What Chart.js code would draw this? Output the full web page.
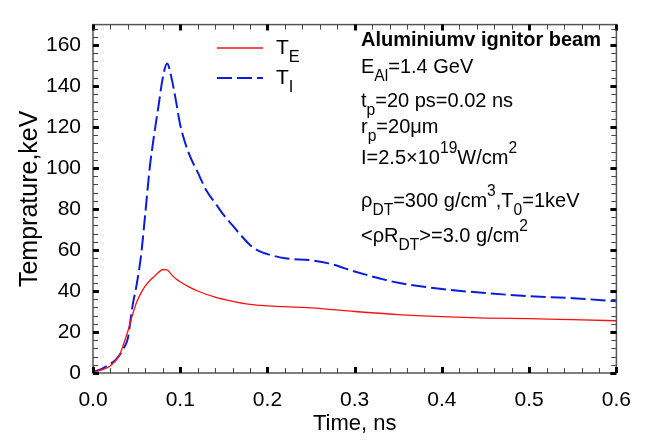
<!DOCTYPE html>
<html>
<head>
<meta charset="utf-8">
<script src="https://cdn.jsdelivr.net/npm/chart.js@4"></script>
<style>
  body { margin: 0; background: #fff; }
  #wrap { width: 646px; height: 442px; }
</style>
</head>
<body>
<div id="wrap"><canvas id="chart" width="646" height="442"></canvas></div>
<script>
// electron temperature T_E (red, solid)
const timeE = [0, 0.01, 0.02, 0.03, 0.035, 0.04, 0.045, 0.05, 0.055, 0.06, 0.065, 0.07, 0.075, 0.08, 0.085,
  0.09, 0.095, 0.1, 0.11, 0.12, 0.14, 0.16, 0.18, 0.2, 0.25, 0.3, 0.35, 0.4, 0.45, 0.5, 0.55, 0.6];
const tempE = [0.5, 1.5, 3.5, 8.5, 14, 20.5, 28, 34.5, 39, 42.5, 45, 47, 49, 50.5, 50.3,
  48, 46, 44.5, 42, 40, 37, 35, 33.5, 32.8, 31.8, 30, 28.5, 27.5, 26.8, 26.5, 26, 25.5];

// ion temperature T_I (blue, dashed)
const timeI = [0, 0.01, 0.02, 0.025, 0.03, 0.035, 0.04, 0.045, 0.05, 0.055, 0.06, 0.065, 0.07, 0.075, 0.08,
  0.085, 0.09, 0.095, 0.1, 0.11, 0.12, 0.13, 0.14, 0.15, 0.16, 0.17, 0.18, 0.19, 0.2, 0.22, 0.25, 0.27,
  0.3, 0.33, 0.35, 0.4, 0.45, 0.5, 0.55, 0.6];
const tempI = [0.5, 2, 4.5, 6, 8.5, 12, 17, 32, 43, 57, 78, 100, 116, 130, 144,
  151, 144, 133, 121, 107, 98, 89, 83, 77, 72, 67, 62.5, 59.6, 58, 56, 55, 53.5,
  49.5, 46, 44, 41, 39, 37.5, 36.5, 35];

const xTicks = [0, 0.1, 0.2, 0.3, 0.4, 0.5, 0.6];
const yTicks = [0, 20, 40, 60, 80, 100, 120, 140, 160];

const FONT = '"Liberation Sans", Arial, sans-serif';

function drawRich(ctx, x, y, parts, size, bold) {
  // parts: [text, 'n' | 'b' (subscript) | 'p' (superscript)]
  for (const [txt, mode] of parts) {
    let fs = size, dy = 0;
    if (mode === 'b') { fs = size * 0.78; dy = size * 0.38; }
    if (mode === 'p') { fs = size * 0.78; dy = -size * 0.55; }
    ctx.font = (bold ? 'bold ' : '') + fs + 'px ' + FONT;
    ctx.fillText(txt, x, y + dy);
    x += ctx.measureText(txt).width;
  }
}

const notes = [
  { y: 46, bold: true, parts: [['Aluminiumv ignitor beam', 'n']] },
  { y: 73, parts: [['E', 'n'], ['Al', 'b'], ['=1.4 GeV', 'n']] },
  { y: 107, parts: [['t', 'n'], ['p', 'b'], ['=20 ps=0.02 ns', 'n']] },
  { y: 133, parts: [['r', 'n'], ['p', 'b'], ['=20\u03bcm', 'n']] },
  { y: 164, parts: [['I=2.5\u00d710', 'n'], ['19', 'p'], ['W/cm', 'n'], ['2', 'p']] },
  { y: 207, parts: [['\u03c1', 'n'], ['DT', 'b'], ['=300 g/cm', 'n'], ['3', 'p'], [',T', 'n'], ['0', 'b'], ['=1keV', 'n']] },
  { y: 242, parts: [['<\u03c1R', 'n'], ['DT', 'b'], ['>=3.0 g/cm', 'n'], ['2', 'p']] }
];

const framePlugin = {
  id: 'frame',
  afterDraw(chart) {
    const ctx = chart.ctx;
    const xs = chart.scales.x, ys = chart.scales.y;
    const a = chart.chartArea;
    ctx.save();
    // frame
    ctx.strokeStyle = '#555';
    ctx.lineWidth = 1.5;
    ctx.strokeRect(a.left, a.top, a.right - a.left, a.bottom - a.top);
    // x ticks (minor every 0.02)
    for (let i = 0; i <= 30; i++) {
      const px = Math.round(xs.getPixelForValue(i * 0.02)) + 0.5;
      const major = i % 5 === 0;
      ctx.strokeStyle = major ? '#000' : '#444';
      ctx.lineWidth = major ? 3 : 1;
      const len = major ? 6 : 5;
      ctx.beginPath();
      ctx.moveTo(px, a.bottom); ctx.lineTo(px, a.bottom - len);
      ctx.moveTo(px, a.top); ctx.lineTo(px, a.top + len);
      ctx.stroke();
    }
    // y ticks (minor every 4)
    for (let i = 0; i <= 42; i++) {
      const py = Math.round(ys.getPixelForValue(i * 4)) + 0.5;
      const major = i % 5 === 0;
      ctx.strokeStyle = major ? '#000' : '#444';
      ctx.lineWidth = major ? 3 : 1;
      const len = major ? 6 : 5;
      ctx.beginPath();
      ctx.moveTo(a.left, py); ctx.lineTo(a.left + len, py);
      ctx.moveTo(a.right, py); ctx.lineTo(a.right - len, py);
      ctx.stroke();
    }

    // legend
    const dsE = chart.data.datasets[0], dsI = chart.data.datasets[1];
    ctx.lineWidth = dsE.borderWidth;
    ctx.strokeStyle = dsE.borderColor;
    ctx.beginPath(); ctx.moveTo(217, 48); ctx.lineTo(263, 48); ctx.stroke();
    ctx.lineWidth = dsI.borderWidth;
    ctx.strokeStyle = dsI.borderColor;
    ctx.setLineDash(dsI.borderDash);
    ctx.beginPath(); ctx.moveTo(217, 78); ctx.lineTo(263, 78); ctx.stroke();
    ctx.setLineDash([]);
    ctx.fillStyle = '#000';
    ctx.textBaseline = 'alphabetic';
    ctx.textAlign = 'left';
    drawRich(ctx, 276, 54, [['T', 'n'], ['E', 'b']], 21);
    drawRich(ctx, 276, 84, [['T', 'n'], ['I', 'b']], 21);

    // annotation block
    for (const n of notes) {
      drawRich(ctx, 361, n.y, n.parts, 20, n.bold);
    }
    ctx.restore();
  }
};

new Chart(document.getElementById('chart'), {
  type: 'line',
  data: {
    datasets: [
      {
        label: 'TE',
        data: timeE.map((t, i) => ({ x: t, y: tempE[i] })),
        borderColor: '#ff1010',
        borderWidth: 1.3,
        pointRadius: 0,
        cubicInterpolationMode: 'monotone',
        fill: false
      },
      {
        label: 'TI',
        data: timeI.map((t, i) => ({ x: t, y: tempI[i] })),
        borderColor: '#0a1ed8',
        borderWidth: 2,
        borderDash: [15, 5],
        pointRadius: 0,
        cubicInterpolationMode: 'monotone',
        fill: false
      }
    ]
  },
  options: {
    responsive: false,
    animation: false,
    devicePixelRatio: 1,
    layout: { padding: { left: 0, top: 8, right: 26, bottom: 0 } },
    plugins: { legend: { display: false }, tooltip: { enabled: false } },
    scales: {
      x: {
        type: 'linear',
        min: 0,
        max: 0.6,
        afterFit: s => { s.height = 69; },
        afterBuildTicks: s => { s.ticks = xTicks.map(v => ({ value: v })); },
        grid: { display: false, drawTicks: false },
        border: { display: false },
        ticks: {
          padding: 15,
          color: '#000',
          font: { family: FONT, size: 21 },
          callback: v => v.toFixed(1)
        },
        title: {
          display: true,
          text: 'Time, ns',
          color: '#000',
          font: { family: FONT, size: 22 },
          padding: { top: 0, bottom: 5 }
        }
      },
      y: {
        type: 'linear',
        min: 0,
        max: 170,
        afterFit: s => { s.width = 93; },
        afterBuildTicks: s => { s.ticks = yTicks.map(v => ({ value: v })); },
        grid: { display: false, drawTicks: false },
        border: { display: false },
        ticks: {
          padding: 12,
          color: '#000',
          font: { family: FONT, size: 21 }
        },
        title: {
          display: true,
          text: 'Temprature,keV',
          color: '#000',
          font: { family: FONT, size: 25 },
          padding: { top: 15, bottom: 0 }
        }
      }
    }
  },
  plugins: [framePlugin]
});
</script>
</body>
</html>
